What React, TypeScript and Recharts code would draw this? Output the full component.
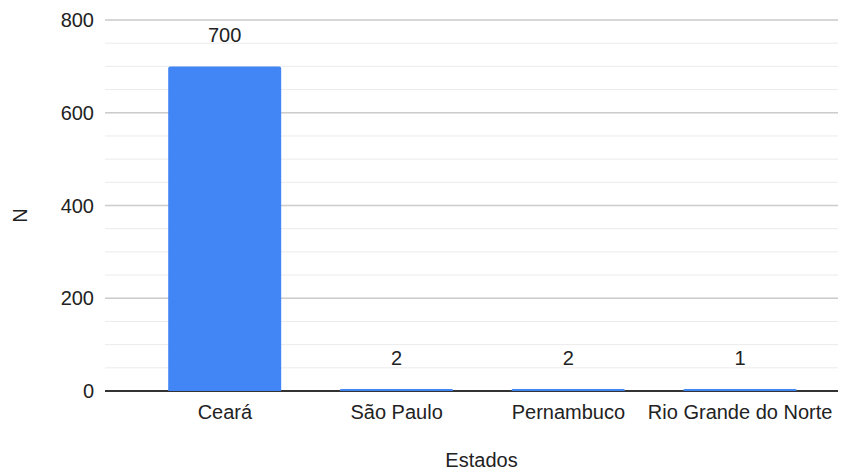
import { BarChart, Bar, XAxis, YAxis, CartesianGrid, LabelList, Label, ReferenceLine } from "recharts"

const ESTADOS = ["Ceará", "São Paulo", "Pernambuco", "Rio Grande do Norte"]
const N_VALUES = [700, 2, 2, 1]

// every gridline (minor + major) and the labelled majors
const Y_TICKS = [0, 50, 100, 150, 200, 250, 300, 350, 400, 450, 500, 550, 600, 650, 700, 750, 800]
const Y_MAJOR = [200, 400, 600, 800]
const Y_DOMAIN = [0, 800]

const data = ESTADOS.map((estado, i) => ({ estado, n: N_VALUES[i] }))

const TEXT = "#222222"
const FONT = '"Liberation Sans", Arial, sans-serif'

export default function App() {
  return (
    <div style={{ position: "absolute", left: 0, top: 0 }}>
      <BarChart
        width={854}
        height={470}
        data={data}
        margin={{ top: 20, right: 16, bottom: 0, left: 0 }}
        barCategoryGap="17%"
        style={{ fontFamily: FONT }}
      >
        {/* minor lines every 50 */}
        <CartesianGrid vertical={false} stroke="#ebebeb" strokeWidth={1} />
        {Y_MAJOR.map((v) => (
          <ReferenceLine key={v} y={v} stroke="#cccccc" strokeWidth={1.5} zIndex={-90} />
        ))}
        <XAxis
          dataKey="estado"
          height={79}
          padding={{ left: 34, right: 12 }}
          axisLine={{ stroke: "#333333", strokeWidth: 2 }}
          tickLine={false}
          tickSize={0}
          tickMargin={14}
          interval={0}
          tick={{ fontSize: 20, fill: TEXT }}
        >
          <Label value="Estados" position="insideBottom" offset={3} dx={10} fontSize={20} fill={TEXT} />
        </XAxis>
        <YAxis
          width={105}
          domain={Y_DOMAIN}
          ticks={Y_TICKS}
          interval={0}
          axisLine={false}
          tickLine={false}
          tickSize={0}
          tickMargin={11}
          tickFormatter={(v: number) => (v % 200 === 0 ? String(v) : "")}
          tick={{ fontSize: 20, fill: TEXT }}
        >
          <Label
            value="N"
            angle={-90}
            position="insideLeft"
            offset={20}
            dy={10}
            fontSize={20}
            fill={TEXT}
            style={{ textAnchor: "middle" }}
          />
        </YAxis>
        <Bar
          dataKey="n"
          fill="#4285f4"
          radius={[2, 2, 0, 0]}
          minPointSize={2}
          zIndex={800}
          isAnimationActive={false}
        >
          <LabelList dataKey="n" position="top" offset={24} fontSize={20} fill={TEXT} />
        </Bar>
      </BarChart>
    </div>
  )
}
